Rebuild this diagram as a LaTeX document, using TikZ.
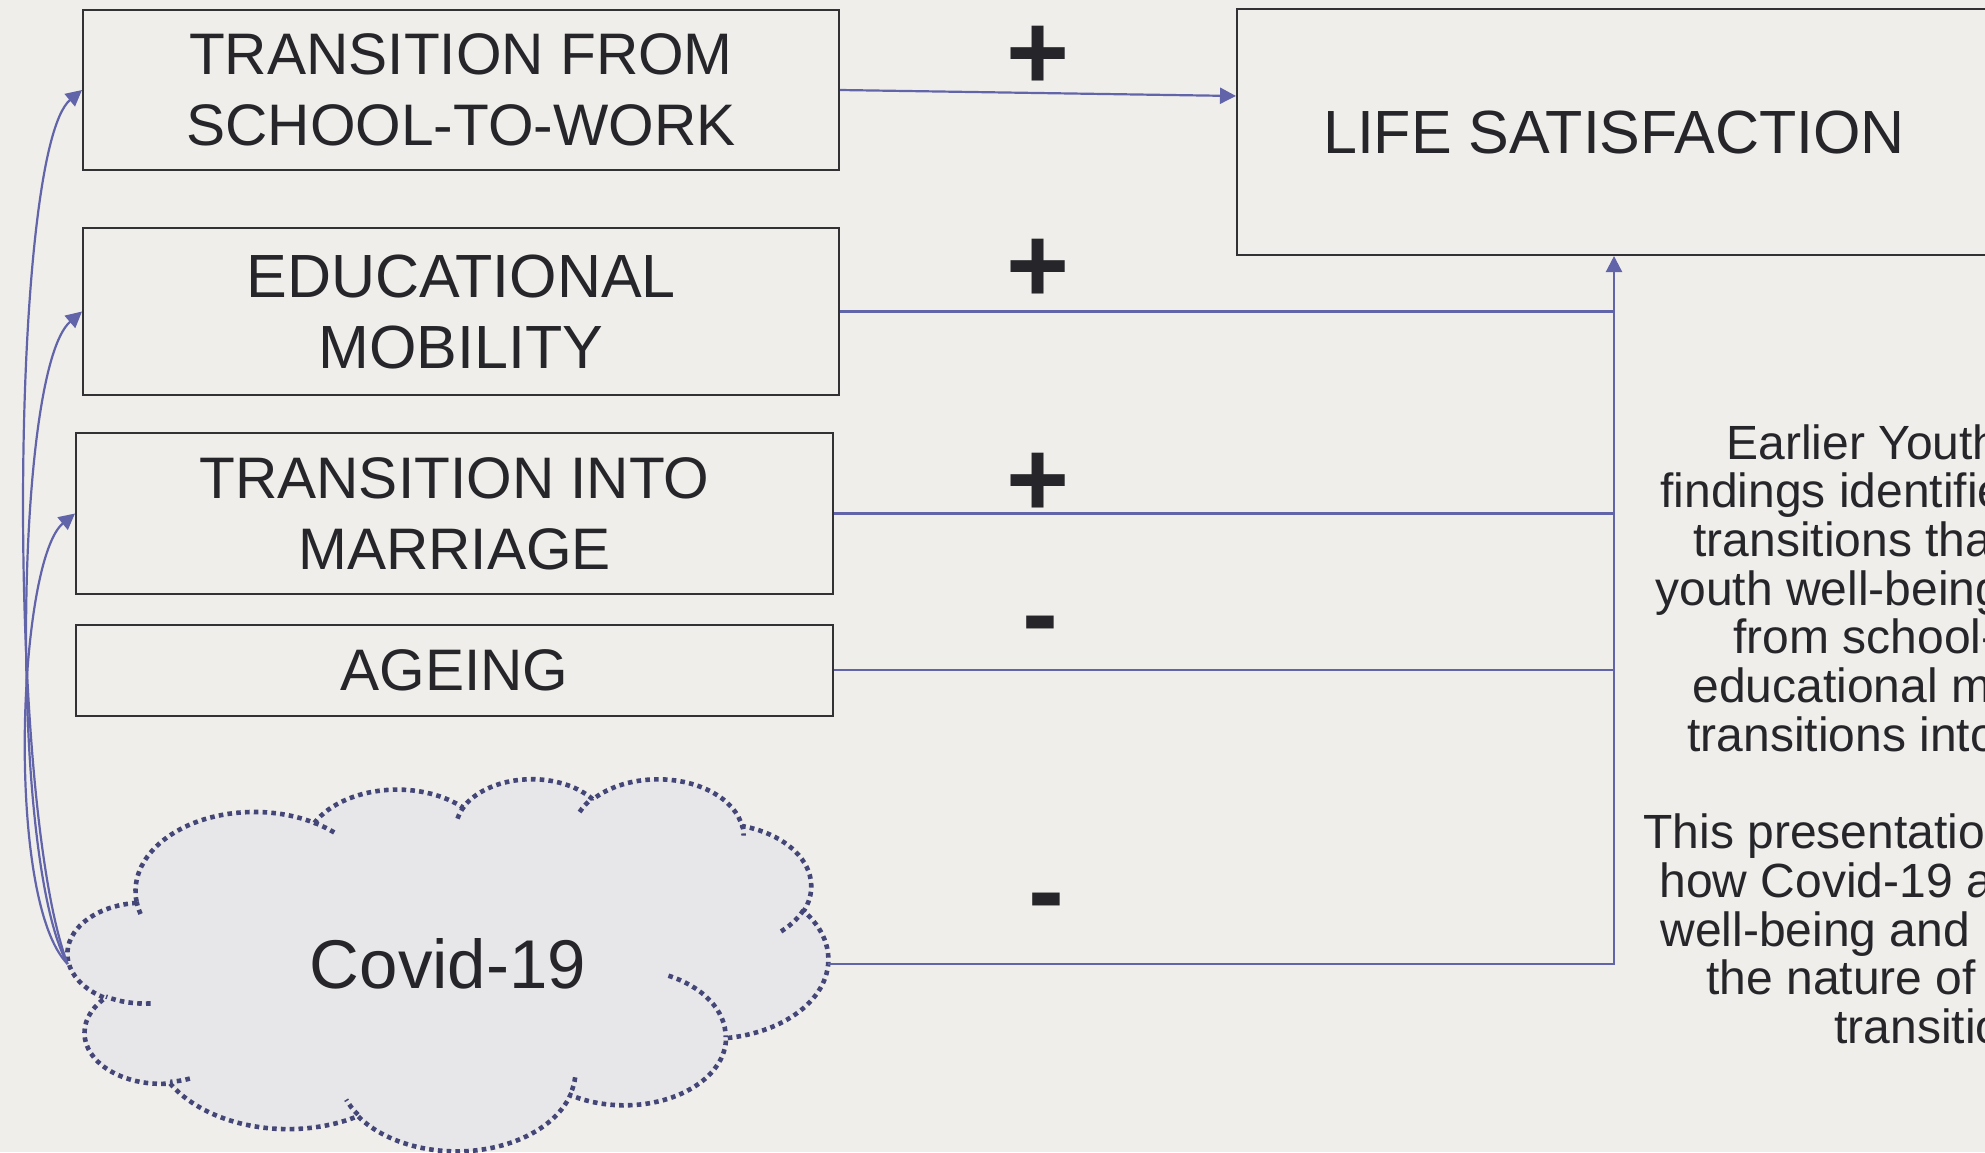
\documentclass[tikz,border=0pt]{standalone}
\usepackage{fontspec}
\setmainfont{Liberation Sans}
\usetikzlibrary{arrows.meta}
\definecolor{bgc}{RGB}{239,238,234}
\definecolor{txt}{RGB}{38,38,42}
\definecolor{boxc}{RGB}{50,50,52}
\definecolor{connc}{RGB}{98,100,170}
\definecolor{cloudfillc}{RGB}{231,231,234}
\definecolor{cloudc}{RGB}{68,70,120}
\newcommand\cldarc[4]{arc[x radius=#1, y radius=#2, start angle={atan2((#1)*sin(#3),(#2)*cos(#3))}, delta angle={mod(atan2((#1)*sin((#3)+(#4)),(#2)*cos((#3)+(#4)))-atan2((#1)*sin(#3),(#2)*cos(#3))+720,360)}]}
\tikzset{
  box/.style={draw=boxc, line width=1pt, inner sep=0pt, align=center, text=txt, font=\fontsize{29.3}{35.5}\selectfont},
  bigbox/.style={box, font=\fontsize{30.5}{35.5}\selectfont},
  conn/.style={draw=connc, line width=1.1pt},
  arr/.style={conn, -{Triangle[length=8pt,width=8pt]}},
  sign/.style={text=txt, inner sep=0pt, anchor=base, font=\fontsize{54}{60}\selectfont\bfseries},
  rtext/.style={text=txt, inner sep=0pt, anchor=base west, font=\fontsize{24}{24.3}\selectfont},
  cloudline/.style={draw=cloudc, line width=2.3pt, dash pattern=on 2.3pt off 2.1pt}
}
\begin{document}
\begin{tikzpicture}[x=0.5pt,y=-0.5pt]
\path[use as bounding box, fill=bgc] (0,0) rectangle (1985,1152);
\clip (0,0) rectangle (1985,1152);

% cloud
\begin{scope}[shift={(68,778)}, x=0.087963pt, y=-0.043056pt]
\path[fill=cloudfillc, cloudline] (390,1437)
  \cldarc{675.3}{919}{-190.4875}{123.7805}
  \cldarc{533.3}{726.7}{-144.1024}{89.9452}
  \cldarc{436.5}{594.5}{-145.8079}{99.7230}
  \cldarc{485.7}{659.5}{-130.9861}{117.2417}
  \cldarc{533.3}{727.3}{-78.7089}{109.0269}
  \cldarc{677.5}{922}{-46.2673}{130.2690}
  \cldarc{578.5}{786.7}{0.6250}{114.0333}
  \cldarc{675.2}{921.5}{22.4516}{115.1726}
  \cldarc{772}{1054.3}{66.2426}{75.7110}
  \cldarc{436}{591.8}{-274.9421}{146.7356}
  \cldarc{434.5}{594.5}{-246.8285}{152.5189}
  -- cycle;
\path[cloudline]
  (469.3,2617.7) \cldarc{434.5}{594.5}{86.742}{26.4295}
  (692.8,3489.9) \cldarc{436}{591.8}{73.6105}{11.4475}
  (1647.8,3909) \cldarc{675.2}{921.5}{137.6242}{14.0811}
  (2882.7,3475.1) \cldarc{675.2}{921.5}{6.4533}{15.9984}
  (3412.9,2295.4) \cldarc{578.5}{786.7}{-70.2924}{70.9174}
  (4179.8,1535.4) \cldarc{533.3}{727.3}{30.318}{27.7515}
  (3832.4,542.6) \cldarc{485.7}{659.5}{-13.7443}{14.8589}
  (2907.8,395.2) \cldarc{485.7}{659.5}{-149.1815}{18.1954}
  (2214.1,472) \cldarc{436.5}{594.5}{-163.4943}{17.6864}
  (1400,519.2) \cldarc{675.3}{919}{-66.707}{12.3194}
  (412.7,1578.9) \cldarc{675.3}{919}{157.6544}{11.8582};
\end{scope}
\node[inner sep=0pt, minimum width=380pt, minimum height=186pt, text=txt, font=\fontsize{34.5}{40}\selectfont] (covid) at (448,964) {Covid-19};

% boxes
\node[box, minimum width=378pt, minimum height=80pt] (b1) at (461,90) {TRANSITION FROM\\SCHOOL-TO-WORK};
\node[bigbox, minimum width=378pt, minimum height=83.5pt] (b2) at (461,311.5) {EDUCATIONAL\\MOBILITY};
\node[box, minimum width=378.5pt, minimum height=80.5pt] (b3) at (454.5,513.5) {TRANSITION INTO\\MARRIAGE};
\node[box, minimum width=378.5pt, minimum height=45.5pt] (b4) at (454.5,670) {AGEING};
\node[bigbox, minimum width=377pt, minimum height=123pt] (life) at (1614,132) {LIFE SATISFACTION};

% signs
\node[sign] (p1) at (1038,89.5) {+};
\node[sign] (p2) at (1038,302.5) {+};
\node[sign] (p3) at (1038,516.5) {+};
\node[sign] (m1) at (1040,650.5) {-};
\node[sign] (m2) at (1046,927.5) {-};

% connectors
\draw[arr] (b1.east) -- ([yshift=18pt]life.west);
\draw[conn] (b2.east) -- (b2.east -| life.south);
\draw[conn] (b3.east) -- (b3.east -| life.south);
\draw[conn] (b4.east) -- (b4.east -| life.south);
\draw[arr] (covid.east) -| (life.south);

\draw[arr] (covid.west) .. controls +(-62,-164) and +(-72,60) .. (b1.west);
\draw[arr] (covid.west) .. controls +(-58,-104) and +(-68,58.5) .. (b2.west);
\draw[arr] (covid.west) .. controls +(-63,-64) and +(-57,46.5) .. (b3.west);

% right text
\node[rtext] (r1) at (1726,459) {Earlier Youth};
\node[rtext] (r2) at (1660,507.7) {findings identifie};
\node[rtext] (r3) at (1693,556.4) {transitions tha};
\node[rtext] (r4) at (1655,605.1) {youth well-being};
\node[rtext] (r5) at (1733,653.8) {from school-};
\node[rtext] (r6) at (1692,702.5) {educational m};
\node[rtext] (r7) at (1687,751.2) {transitions into};
\node[rtext] (r8) at (1643,848.6) {This presentatio};
\node[rtext] (r9) at (1659,897.3) {how Covid-19 a};
\node[rtext] (r10) at (1660,946) {well-being and};
\node[rtext] (r11) at (1706,994.7) {the nature of};
\node[rtext] (r12) at (1834,1043.4) {transitio};
\end{tikzpicture}
\end{document}
